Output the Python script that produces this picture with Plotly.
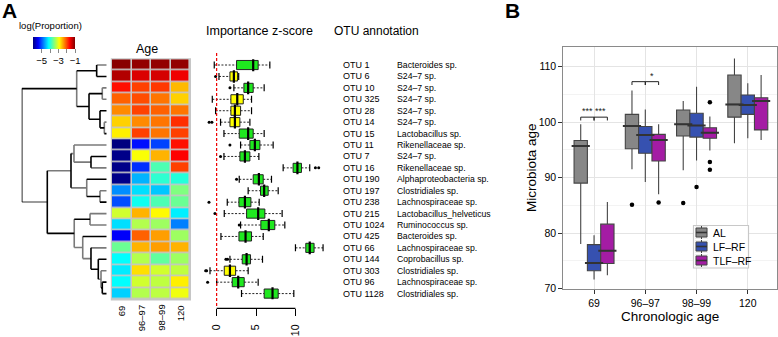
import plotly.graph_objects as go

W, H = 778, 337
def fx(p): return p / W
def fy(p): return 1 - p / H

FONT = "Liberation Sans, Arial, sans-serif"

# ---------------- Panel A data ----------------
age_groups = ["69", "96–97", "98–99", "120"]
otu_ids = ["OTU 1", "OTU 6", "OTU 10", "OTU 325", "OTU 28", "OTU 14", "OTU 15",
           "OTU 11", "OTU 7", "OTU 16", "OTU 190", "OTU 197", "OTU 238", "OTU 215",
           "OTU 1024", "OTU 425", "OTU 66", "OTU 144", "OTU 303", "OTU 96", "OTU 1128"]
otu_names = ["Bacteroides sp.", "S24–7 sp.", "S24–7 sp.", "S24–7 sp.", "S24–7 sp.",
             "S24–7 sp.", "Lactobacillus sp.", "Rikenellaceae sp.", "S24–7 sp.",
             "Rikenellaceae sp.", "Alphaproteobacteria sp.", "Clostridiales sp.",
             "Lachnospiraceae sp.", "Lactobacillus_helveticus", "Ruminococcus sp.",
             "Bacteroides sp.", "Lachnospiraceae sp.", "Coprobacillus sp.",
             "Clostridiales sp.", "Lachnospiraceae sp.", "Clostridiales sp."]
log_prop = [
    [-1.05, -1.10, -1.10, -1.10],
    [-1.25, -1.45, -1.42, -1.55],
    [-1.70, -1.94, -1.90, -2.53],
    [-2.10, -2.00, -2.20, -2.65],
    [-2.30, -1.95, -2.10, -2.20],
    [-2.65, -2.30, -2.20, -1.85],
    [-2.80, -1.94, -2.20, -1.94],
    [-6.00, -5.30, -5.05, -1.70],
    [-5.95, -2.90, -2.50, -1.62],
    [-5.95, -5.15, -3.75, -1.94],
    [-5.95, -4.50, -3.90, -3.95],
    [-4.68, -4.28, -4.40, -3.50],
    [-5.00, -4.05, -3.75, -3.60],
    [-3.10, -2.50, -2.85, -4.20],
    [-4.28, -3.25, -3.35, -4.75],
    [-5.40, -2.10, -2.40, -3.35],
    [-3.60, -2.50, -2.40, -2.50],
    [-4.12, -3.25, -3.65, -3.35],
    [-4.22, -2.72, -3.10, -3.19],
    [-4.12, -3.10, -3.19, -2.80],
    [-4.35, -3.25, -3.20, -2.95],
]
cbar_ticks = [-5, -4, -3, -2, -1]
cbar_ticklabels = ["−5", "", "−3", "", "−1"]

imp_low = [-0.30, 0.30, 2.19, -0.55, -0.13, 0.50, 0.93, 3.04, 0.93, 8.44, 2.87,
           4.00, 1.35, 0.97, 3.04, 0.55, 10.00, 1.69, -0.84, 0.00, 3.16]
imp_q1 = [2.53, 1.69, 3.46, 1.81, 1.81, 1.69, 2.87, 4.22, 2.95, 9.70, 4.64,
          5.57, 2.83, 3.80, 5.61, 2.83, 11.31, 3.25, 0.97, 1.98, 6.03]
imp_med = [4.64, 2.19, 4.00, 2.62, 2.32, 2.32, 4.00, 4.85, 3.59, 10.25, 5.36,
           6.03, 3.59, 5.27, 6.62, 3.67, 11.81, 3.80, 1.69, 2.74, 7.09]
imp_q3 = [5.27, 2.66, 4.64, 3.38, 3.04, 2.95, 4.64, 5.49, 4.22, 10.76, 5.91,
          6.54, 4.35, 6.12, 7.38, 4.43, 12.36, 4.30, 2.41, 3.50, 7.81]
imp_high = [6.75, 2.80, 6.03, 4.43, 4.43, 4.22, 6.03, 7.17, 5.36, 11.81, 6.96,
            7.81, 5.40, 8.31, 8.65, 5.91, 13.50, 5.82, 4.00, 5.27, 9.79]
imp_outliers = [[], [-0.13], [1.69], [], [], [-0.95, -0.60], [], [1.69], [0.50],
                [12.53, 12.95], [2.53], [], [-0.97], [-0.21], [2.87], [], [],
                [1.18, 1.39], [-1.39, -1.27], [-1.14], []]
imp_class = ["g", "y", "g", "y", "y", "y", "g", "g", "g", "g", "g",
             "g", "g", "g", "g", "g", "g", "g", "y", "g", "g"]
imp_ticks = [0, 5, 10]

# dendrogram merges: (child a, child b, height); leaves 0..20, merge k -> node 21+k
dend_merges = [
    (0, 1, 0.118), (2, 3, 0.052), (5, 6, 0.028), (4, 23, 0.079), (22, 24, 0.208),
    (21, 25, 0.353), (8, 9, 0.185), (7, 27, 0.385), (11, 12, 0.079), (10, 29, 0.235),
    (28, 30, 0.420), (13, 14, 0.196), (19, 20, 0.052), (18, 33, 0.067), (17, 34, 0.099),
    (16, 35, 0.185), (15, 36, 0.282), (32, 37, 0.382), (31, 38, 0.699), (26, 39, 1.000),
]
# colours of (vertical, branch to a, branch to b): K black, G grey
dend_style = [
    "KGK", "GGG", "GGK", "KKK", "KKK", "GKK", "KKG", "GGG", "GGK", "GKK",
    "KGG", "GGG", "KKK", "GGK", "KKG", "KGK", "GKG", "GKG", "KGK", "KKG",
]

# ---------------- Panel B data ----------------
b_groups = ["69", "96–97", "98–99", "120"]
b_series = ["AL", "LF–RF", "TLF–RF"]
b_low = [[78.0, 91.5, 91.3, 96.2], [71.6, 89.2, 93.1, 97.1], [72.4, 87.0, 94.9, 96.8]]
b_q1 = [[89.0, 95.2, 97.5, 100.9], [73.2, 94.4, 97.3, 101.4], [74.5, 93.0, 97.1, 98.6]]
b_med = [[95.7, 99.3, 99.6, 103.2], [74.6, 97.7, 99.4, 103.1], [76.8, 96.8, 98.1, 103.8]]
b_q3 = [[96.7, 101.4, 102.2, 108.5], [77.9, 99.2, 101.6, 104.9], [81.6, 97.8, 99.0, 104.4]]
b_high = [[99.6, 105.7, 103.8, 111.5], [79.6, 102.3, 106.4, 107.0], [85.6, 99.6, 101.0, 108.5]]
b_out_group = [[1, 2], [2], [1, 2, 2, 2]]
b_out_value = [[85.1, 85.4], [88.3], [85.5, 103.6, 92.8, 91.4]]
# significance: (group, series a, series b, y, label)
b_sig = [(0, 0, 1, 100.9, "***"), (0, 1, 2, 100.9, "***"),
         (1, 0, 1, 107.3, ""), (1, 1, 2, 107.3, "*")]
b_yticks = [70, 80, 90, 100, 110]

# ---------------- styles ----------------
GREEN, YELLOW = "#1fe81f", "#ffff00"
B_FILL = ["#878787", "#3651b0", "#a41ca4"]
B_OFF = [-0.26, 0.0, 0.26]
B_W = 0.26
JET = [[0, "#00007F"], [0.125, "#0000FF"], [0.375, "#00FFFF"], [0.625, "#FFFF00"],
       [0.875, "#FF0000"], [1, "#7F0000"]]
COL = {"K": "#000000", "G": "#7a7a7a"}

fig = go.Figure()

# ---- dendrogram ----
n_leaf = len(otu_ids)
node_y = list(range(n_leaf))
node_h = [0.0] * n_leaf
segs = {"K": ([], []), "G": ([], [])}
def add_seg(c, x0, y0, x1, y1):
    xs, ys = segs[c]
    xs += [x0, x1, None]
    ys += [y0, y1, None]
for (a, b, h), st in zip(dend_merges, dend_style):
    ya, yb = node_y[a], node_y[b]
    add_seg(st[0], h, ya, h, yb)
    add_seg(st[1], h, ya, node_h[a], ya)
    add_seg(st[2], h, yb, node_h[b], yb)
    node_y.append((ya + yb) / 2)
    node_h.append(h)
for c in ["G", "K"]:
    fig.add_trace(go.Scatter(x=segs[c][0], y=segs[c][1], mode="lines",
                             line=dict(color=COL[c], width=1.6),
                             xaxis="x", yaxis="y", showlegend=False, hoverinfo="skip"))

# ---- heatmap ----
fig.add_trace(go.Heatmap(
    z=log_prop, x=list(range(len(age_groups))), y=list(range(n_leaf)),
    colorscale=JET, zmin=-6, zmax=-1, xgap=1.6, ygap=1.6,
    xaxis="x2", yaxis="y",
    colorbar=dict(orientation="h", x=fx(54.2), xanchor="center", y=fy(37.3), yanchor="top",
                  lenmode="pixels", len=42, thickness=12, xpad=0, ypad=0, outlinewidth=0,
                  tickvals=cbar_ticks, ticktext=cbar_ticklabels, ticks="outside", ticklen=4,
                  tickcolor="#888888", tickwidth=1.2, tickfont=dict(size=9.5, color="black")),
))

# ---- importance boxplots ----
rows = list(range(n_leaf))
for cls, colr in [("g", GREEN), ("y", YELLOW)]:
    idx = [i for i in rows if imp_class[i] == cls]
    fig.add_trace(go.Box(
        y=idx, q1=[imp_q1[i] for i in idx], median=[imp_med[i] for i in idx],
        q3=[imp_q3[i] for i in idx], lowerfence=[imp_q1[i] for i in idx],
        upperfence=[imp_q3[i] for i in idx], orientation="h", width=0.8,
        fillcolor=colr, line=dict(color="#222222", width=1), whiskerwidth=0,
        xaxis="x3", yaxis="y", showlegend=False, hoverinfo="skip"))
wx, wy = [], []
for i in rows:
    wx += [imp_low[i], imp_q1[i], None, imp_q3[i], imp_high[i], None]
    wy += [i, i, None, i, i, None]
fig.add_trace(go.Scatter(x=wx, y=wy, mode="lines", line=dict(color="#222222", width=1, dash="2px,1.6px"),
                         xaxis="x3", yaxis="y", showlegend=False, hoverinfo="skip"))
fig.add_trace(go.Scatter(x=imp_low + imp_high, y=rows + rows, mode="markers",
                         marker=dict(symbol="line-ns", size=5, line=dict(color="black", width=1.2)),
                         xaxis="x3", yaxis="y", showlegend=False, hoverinfo="skip"))
fig.add_trace(go.Scatter(x=imp_med, y=rows, mode="markers",
                         marker=dict(symbol="line-ns", size=9, line=dict(color="black", width=2.2)),
                         xaxis="x3", yaxis="y", showlegend=False, hoverinfo="skip"))
ox, oy = [], []
for i in rows:
    ox += imp_outliers[i]
    oy += [i] * len(imp_outliers[i])
fig.add_trace(go.Scatter(x=ox, y=oy, mode="markers", marker=dict(color="black", size=3),
                         xaxis="x3", yaxis="y", showlegend=False, hoverinfo="skip"))

# ---- Panel B boxes ----
for s, name in enumerate(b_series):
    pos = [g + B_OFF[s] for g in range(len(b_groups))]
    fig.add_trace(go.Box(
        x=pos, q1=b_q1[s], median=b_med[s], q3=b_q3[s], lowerfence=b_low[s],
        upperfence=b_high[s], width=B_W, whiskerwidth=0, name=name,
        fillcolor=B_FILL[s], line=dict(color="#444444", width=1.1),
        xaxis="x4", yaxis="y2", showlegend=False, hoverinfo="skip"))
    fig.add_trace(go.Scatter(x=pos, y=b_med[s], mode="markers",
                             marker=dict(symbol="line-ew", size=13, line=dict(color="#333333", width=2)),
                             xaxis="x4", yaxis="y2", showlegend=False, hoverinfo="skip"))
    fig.add_trace(go.Scatter(x=[g + B_OFF[s] for g in b_out_group[s]], y=b_out_value[s],
                             mode="markers", marker=dict(color="black", size=4.5),
                             xaxis="x4", yaxis="y2", showlegend=False, hoverinfo="skip"))

shapes = []
# heatmap grey frame
shapes.append(dict(type="rect", xref="paper", yref="paper", x0=fx(110.8), x1=fx(191.0),
                   y0=fy(300.4), y1=fy(58.2), fillcolor="#c6c6c6", line=dict(width=0), layer="below"))
# red dashed zero line
shapes.append(dict(type="line", xref="x3", yref="paper", x0=0, x1=0, y0=fy(306), y1=fy(52),
                   line=dict(color="#ee0000", width=1.2, dash="3px,2px")))
# importance axis line
shapes.append(dict(type="line", xref="x3", yref="paper", x0=imp_ticks[0], x1=imp_ticks[-1],
                   y0=fy(308.3), y1=fy(308.3), line=dict(color="black", width=1.3)))
# significance brackets
annotations = []
for g, a, b, yv, lab in b_sig:
    xa, xb = g + B_OFF[a], g + B_OFF[b]
    shapes.append(dict(type="line", xref="x4", yref="y2", x0=xa, x1=xb, y0=yv, y1=yv,
                       line=dict(color="#222222", width=1)))
    for xx in (xa, xb):
        shapes.append(dict(type="line", xref="x4", yref="y2", x0=xx, x1=xx, y0=yv, y1=yv - 0.6,
                           line=dict(color="#222222", width=1)))
    if lab:
        annotations.append(dict(text=lab, xref="x4", yref="y2", x=(xa + xb) / 2, y=yv - 0.2,
                                showarrow=False, yanchor="bottom", font=dict(size=9, color="#222222")))

def ann(text, x, y, size, xanchor="center", yanchor="middle", angle=0, bold=False, xref="paper", yref="paper"):
    annotations.append(dict(text=f"<b>{text}</b>" if bold else text, x=x, y=y, xref=xref, yref=yref,
                            xanchor=xanchor, yanchor=yanchor, textangle=angle, showarrow=False,
                            font=dict(size=size, color="black", family=FONT)))

# ---- manual legend for panel B (ggplot style) ----
LEG_X, LEG_Y, LEG_ROW = 693.5, 225.5, 14
shapes.append(dict(type="rect", xref="paper", yref="paper", x0=fx(LEG_X), x1=fx(748.5),
                   y0=fy(LEG_Y + 3 * LEG_ROW + 0.5), y1=fy(LEG_Y), fillcolor="white",
                   line=dict(color="#c8c8c8", width=1.2)))
for s, name in enumerate(b_series):
    cy = LEG_Y + LEG_ROW * (s + 0.5)
    shapes.append(dict(type="rect", xref="paper", yref="paper", x0=fx(LEG_X + 1.5), x1=fx(LEG_X + 14.5),
                       y0=fy(cy + 6.5), y1=fy(cy - 6.5), fillcolor="#f0f0f0", line=dict(width=0)))
    shapes.append(dict(type="line", xref="paper", yref="paper", x0=fx(LEG_X + 8), x1=fx(LEG_X + 8),
                       y0=fy(cy + 6.5), y1=fy(cy - 6.5), line=dict(color="#444444", width=1)))
    shapes.append(dict(type="rect", xref="paper", yref="paper", x0=fx(LEG_X + 2.5), x1=fx(LEG_X + 13.5),
                       y0=fy(cy + 4.5), y1=fy(cy - 4.5), fillcolor=B_FILL[s],
                       line=dict(color="#444444", width=1)))
    shapes.append(dict(type="line", xref="paper", yref="paper", x0=fx(LEG_X + 2.5), x1=fx(LEG_X + 13.5),
                       y0=fy(cy), y1=fy(cy), line=dict(color="#333333", width=1.6)))
    ann(name, fx(LEG_X + 17), fy(cy), 10.5, "left", "middle")

ann("A", fx(0), fy(-3), 21, "left", "top", bold=True)
ann("B", fx(503), fy(-3), 21, "left", "top", bold=True)
ann("log(Proportion)", fx(50), fy(25.5), 9.5)
ann("Age", fx(147), fy(49), 12.5)
ann("Importance z-score", fx(259.5), fy(31), 12.5)
ann("OTU annotation", fx(376), fy(31), 12)
for j, lab in enumerate(age_groups):
    ann(lab, j, fy(303), 9.5, "center", "top", angle=-90, xref="x2")
for i in rows:
    ann(otu_ids[i], fx(341), i, 9, "left", "middle", yref="y")
    ann(otu_names[i], fx(395), i, 8.7, "left", "middle", yref="y")
ann("Microbiota age", fx(531), fy(168), 13.5, angle=-90)
ann("Chronologic age", fx(670), fy(316.7), 13.5)

fig.update_layout(
    width=W, height=H, margin=dict(l=0, r=0, t=0, b=0, autoexpand=False),
    paper_bgcolor="white", plot_bgcolor="rgba(0,0,0,0)",
    font=dict(family=FONT, color="black"), showlegend=False,
    shapes=shapes, annotations=annotations,
    xaxis=dict(domain=[fx(21.7), fx(106.7)], range=[1.0, 0.0], visible=False, anchor="y"),
    yaxis=dict(domain=[fy(299.3), fy(59.3)], range=[20.5, -0.5], visible=False, anchor="x"),
    xaxis2=dict(domain=[fx(112), fx(190)], range=[-0.5, 3.5], visible=False, anchor="y"),
    xaxis3=dict(domain=[fx(204), fx(327)], range=[-1.6, 14.0], anchor="free", position=fy(308.3),
                showline=False, showgrid=False, zeroline=False, ticks="outside", ticklen=7,
                tickwidth=1.3, tickcolor="black", tickvals=imp_ticks, tickangle=-90,
                tickfont=dict(size=10.5), ticklabelstandoff=4),
    xaxis4=dict(domain=[fx(563.3), fx(777)], range=[-0.6, 3.57], anchor="y2",
                tickvals=list(range(len(b_groups))), ticktext=b_groups, showgrid=True,
                gridcolor="#e4e4e4", zeroline=False, ticks="outside", ticklen=4,
                tickcolor="#333333", showline=True, mirror=True, linecolor="#8a8a8a",
                tickfont=dict(size=10.5)),
    yaxis2=dict(domain=[fy(289), fy(47.3)], range=[69.9, 113.5], anchor="x4",
                tickvals=b_yticks, showgrid=True, gridcolor="#e4e4e4", zeroline=False,
                minor=dict(dtick=5, tick0=0, showgrid=True, gridcolor="#f3f3f3", ticks=""),
                ticks="outside", ticklen=4, tickcolor="#333333", showline=True, mirror=True,
                linecolor="#8a8a8a", tickfont=dict(size=10.5)),
)

fig.write_html("out.html", config={"displayModeBar": False},
               post_script="document.body.style.margin='0';document.body.style.overflow='hidden';")
